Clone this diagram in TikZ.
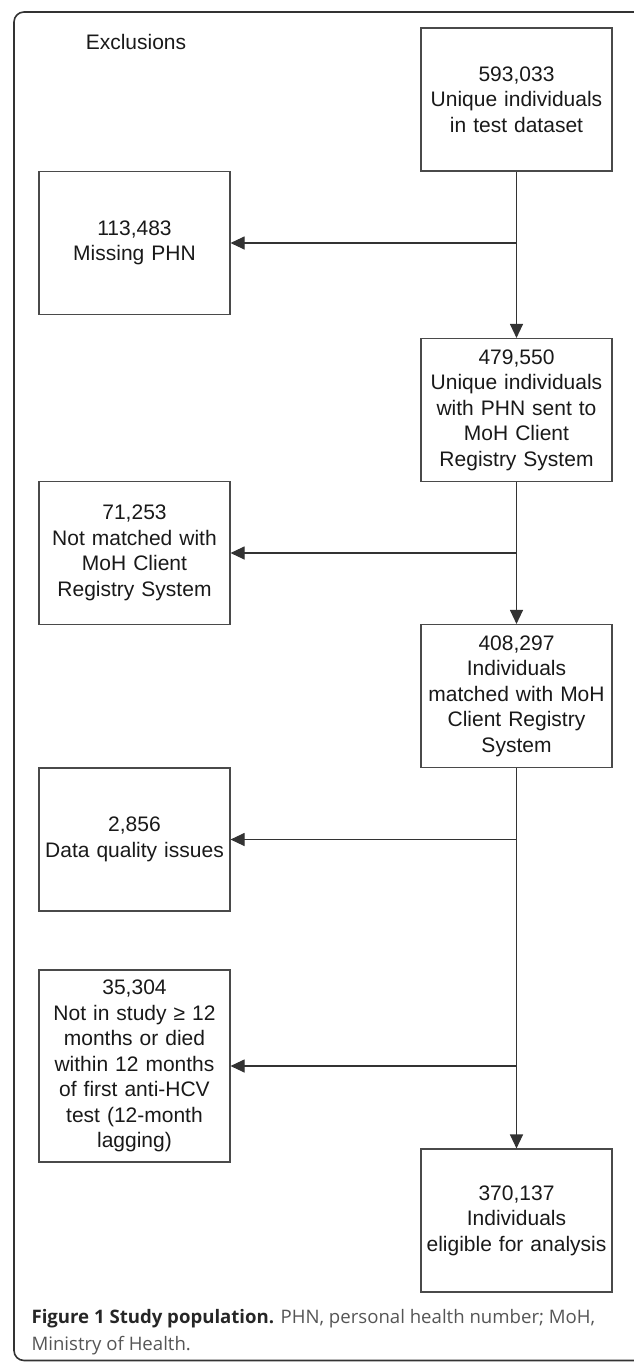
\documentclass[tikz,border=0pt]{standalone}
\usepackage{fontspec}
\setmainfont{Liberation Sans}
\newfontfamily\capfont{Open Sans}
\usepackage{tikz}
\usetikzlibrary{arrows.meta}

\definecolor{boxline}{HTML}{4A4A4A}
\definecolor{flowline}{HTML}{333333}
\definecolor{captext}{HTML}{555555}

\begin{document}
\begin{tikzpicture}[x=1pt,y=-1pt,
		stage/.style = {
			rectangle,draw=boxline,line width=1.1pt,
			minimum width=191pt,minimum height=143pt,
			text width=185pt,inner xsep=3pt,align=center,
			font=\fontsize{21}{25.5}\selectfont,text=black!90
		},
		excl/.style = {stage},
		>={Triangle[length=14pt,width=13pt]},line width=1.1pt,flowline]
		\useasboundingbox (0,0) rectangle (633,1363);
		\draw[line width=1.6pt,black!80,rounded corners=10pt]
			(660,12) -- (14,12) -- (14,1360.5) -- (660,1360.5);
		\node[font=\fontsize{21}{25.5}\selectfont,text=black!90] (title) at (136,42) {Exclusions};

		\node[stage] (start)    at (516.5,99.5) {593,033\\Unique individuals\\in test dataset};
		\node[excl]  (nophn)    at (134.5,243)  {113,483\\Missing PHN};
		\node[stage] (sent)     at (516.5,410)  {479,550\\Unique individuals\\with PHN sent to\\MoH Client\\Registry System};
		\node[excl]  (nomatch)  at (134.5,553)  {71,253\\Not matched with\\MoH Client\\Registry System};
		\node[stage] (matched)  at (516.5,696)  {408,297\\Individuals\\matched with MoH\\Client Registry\\System};
		\node[excl]  (quality)  at (134.5,839.5){2,856\\Data quality issues};
		\node[excl,minimum height=192pt] (lagging) at (134.5,1066) {35,304\\Not in study ≥ 12\\months or died\\within 12 months\\of first anti-HCV\\test (12-month\\lagging)};
		\node[stage] (eligible) at (516.5,1220.5) {370,137\\Individuals\\eligible for analysis};

		\coordinate (j1) at (start.south |- nophn.east);
		\coordinate (j2) at (sent.south |- nomatch.east);
		\coordinate (j3) at (matched.south |- quality.east);
		\coordinate (j4) at (matched.south |- lagging.east);

		\draw[->] (start) -- (sent);
		\draw[->] (j1) -- (nophn);
		\draw[->] (sent) -- (matched);
		\draw[->] (j2) -- (nomatch);
		\draw[->] (matched) -- (eligible);
		\draw[->] (j3) -- (quality);
		\draw[->] (j4) -- (lagging);

		\node[anchor=north west,align=left,inner sep=0pt,text=captext,
			font=\capfont\fontsize{18.6}{27}\selectfont] (caption) at (31,1309)
			{{\bfseries\color{black!85}Figure 1 Study population.} PHN, personal health number; MoH,\\Ministry of Health.};
\end{tikzpicture}
\end{document}
